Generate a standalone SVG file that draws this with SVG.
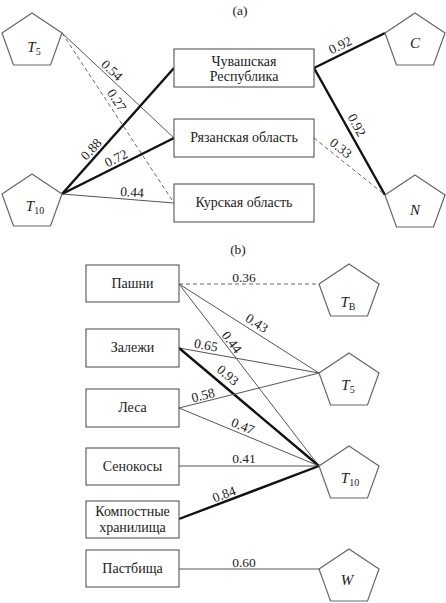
<svg xmlns="http://www.w3.org/2000/svg" xmlns:xlink="http://www.w3.org/1999/xlink" width="446" height="603" viewBox="0 0 446 603" font-family="'Times New Roman', Times, 'Liberation Serif', Tinos, 'Noto Serif', 'DejaVu Serif', serif">
<style>
text{font-family:'Times New Roman',Times,'Liberation Serif',Tinos,'Noto Serif','DejaVu Serif',serif;fill:#222}
.box{fill:#fff;stroke:#555;stroke-width:1.1}
.pent{fill:#fff;stroke:#666;stroke-width:1.2}
.bt{font-size:14px;text-anchor:middle}
.num{font-size:13.5px;text-anchor:middle}
.tl{font-size:15px;text-anchor:middle;font-style:italic}
.sub{font-size:10px;font-style:normal}
.thin{stroke:#555;stroke-width:1;fill:none}
.thick{stroke:#111;stroke-width:2.4;fill:none}
.dash{stroke:#666;stroke-width:1;stroke-dasharray:4 3;fill:none}
.title{font-size:13.5px;text-anchor:middle}
</style>
<defs>
<path id="pg" d="M0,0 L30,20 L18.5,52 L-18.5,52 L-30,20 Z"/>
</defs>
<rect width="446" height="603" fill="#fff"/>
<text class="title" x="240" y="15">(a)</text>
<text class="title" x="238" y="254">(b)</text>

<g id="connectors">
<line class="thin" x1="62" y1="33" x2="174" y2="138"/>
<line class="dash" x1="62" y1="33" x2="174" y2="203"/>
<line class="thick" x1="62" y1="194" x2="174" y2="68"/>
<line class="thick" x1="62" y1="194" x2="174" y2="138"/>
<line class="thin" x1="62" y1="194" x2="174" y2="203"/>
<line class="thick" x1="314" y1="68" x2="385" y2="33"/>
<line class="thick" x1="314" y1="68" x2="385" y2="195"/>
<line class="dash" x1="314" y1="138" x2="385" y2="195"/>
<line class="dash" x1="179" y1="284" x2="319" y2="284"/>
<line class="thin" x1="179" y1="284" x2="319" y2="373"/>
<line class="thin" x1="179" y1="284" x2="319" y2="466"/>
<line class="thin" x1="179" y1="348" x2="319" y2="373"/>
<line class="thick" x1="179" y1="348" x2="319" y2="466"/>
<line class="thin" x1="179" y1="408" x2="319" y2="373"/>
<line class="thin" x1="179" y1="408" x2="319" y2="466"/>
<line class="thin" x1="179" y1="466" x2="319" y2="466"/>
<line class="thick" x1="179" y1="519" x2="319" y2="466"/>
<line class="thin" x1="179" y1="569" x2="319" y2="569"/>
<g class="num">
<text transform="translate(112,70) rotate(43)" dy="0.35em">0.54</text>
<text transform="translate(117,100) rotate(57)" dy="0.35em">0.27</text>
<text transform="translate(91,149) rotate(-48)" dy="0.35em">0.88</text>
<text transform="translate(116,158) rotate(-27)" dy="0.35em">0.72</text>
<text transform="translate(132,192) rotate(4)" dy="0.35em">0.44</text>
<text transform="translate(340,45) rotate(-27)" dy="0.35em">0.92</text>
<text transform="translate(357,125) rotate(61)" dy="0.35em">0.92</text>
<text transform="translate(341,148) rotate(39)" dy="0.35em">0.33</text>
<text transform="translate(244,277)" dy="0.35em">0.36</text>
<text transform="translate(257,323) rotate(33)" dy="0.35em">0.43</text>
<text transform="translate(232,342) rotate(53)" dy="0.35em">0.44</text>
<text transform="translate(206,345) rotate(10)" dy="0.35em">0.65</text>
<text transform="translate(228,375) rotate(40)" dy="0.35em">0.93</text>
<text transform="translate(203,395) rotate(-14)" dy="0.35em">0.58</text>
<text transform="translate(243,426) rotate(22.5)" dy="0.35em">0.47</text>
<text transform="translate(244,458)" dy="0.35em">0.41</text>
<text transform="translate(224,494) rotate(-20.7)" dy="0.35em">0.84</text>
<text transform="translate(244,562)" dy="0.35em">0.60</text>
</g>
</g>

<g id="a-T5"><use xlink:href="#pg" class="pent" transform="translate(32,13)"/><text class="tl" x="34" y="52">T<tspan class="sub" dy="3">5</tspan></text></g>
<g id="a-T10"><use xlink:href="#pg" class="pent" transform="translate(32,174)"/><text class="tl" x="35" y="211">T<tspan class="sub" dy="3">10</tspan></text></g>
<g id="a-C"><use xlink:href="#pg" class="pent" transform="translate(415,13)"/><text class="tl" x="415" y="48">C</text></g>
<g id="a-N"><use xlink:href="#pg" class="pent" transform="translate(415,175)"/><text class="tl" x="415" y="215">N</text></g>
<g id="a-chuv"><rect class="box" x="174" y="49" width="140" height="38"/><text class="bt" x="244" y="66">Чувашская</text><text class="bt" x="244" y="81">Республика</text></g>
<g id="a-ryaz"><rect class="box" x="174" y="119" width="140" height="38"/><text class="bt" x="244" y="142">Рязанская область</text></g>
<g id="a-kursk"><rect class="box" x="174" y="184" width="140" height="38"/><text class="bt" x="244" y="207">Курская область</text></g>

<g id="b-pashni"><rect class="box" x="86" y="265" width="93" height="37"/><text class="bt" x="132.5" y="288">Пашни</text></g>
<g id="b-zalezhi"><rect class="box" x="86" y="329" width="93" height="38"/><text class="bt" x="132.5" y="352">Залежи</text></g>
<g id="b-lesa"><rect class="box" x="86" y="389" width="93" height="38"/><text class="bt" x="132.5" y="412">Леса</text></g>
<g id="b-senokosy"><rect class="box" x="86" y="448" width="93" height="37"/><text class="bt" x="132.5" y="471">Сенокосы</text></g>
<g id="b-kompost"><rect class="box" x="86" y="501" width="93" height="37"/><text class="bt" x="132.5" y="516">Компостные</text><text class="bt" x="132.5" y="532">хранилища</text></g>
<g id="b-pastbishcha"><rect class="box" x="86" y="550" width="93" height="37"/><text class="bt" x="132.5" y="573">Пастбища</text></g>
<g id="b-TB"><use xlink:href="#pg" class="pent" transform="translate(349,264)"/><text class="tl" x="348" y="307">T<tspan class="sub" dy="3">В</tspan></text></g>
<g id="b-T5"><use xlink:href="#pg" class="pent" transform="translate(349,353)"/><text class="tl" x="348" y="390">T<tspan class="sub" dy="3">5</tspan></text></g>
<g id="b-T10"><use xlink:href="#pg" class="pent" transform="translate(349,446)"/><text class="tl" x="350" y="483">T<tspan class="sub" dy="3">10</tspan></text></g>
<g id="b-W"><use xlink:href="#pg" class="pent" transform="translate(349,549)"/><text class="tl" x="347" y="585">W</text></g>
</svg>
